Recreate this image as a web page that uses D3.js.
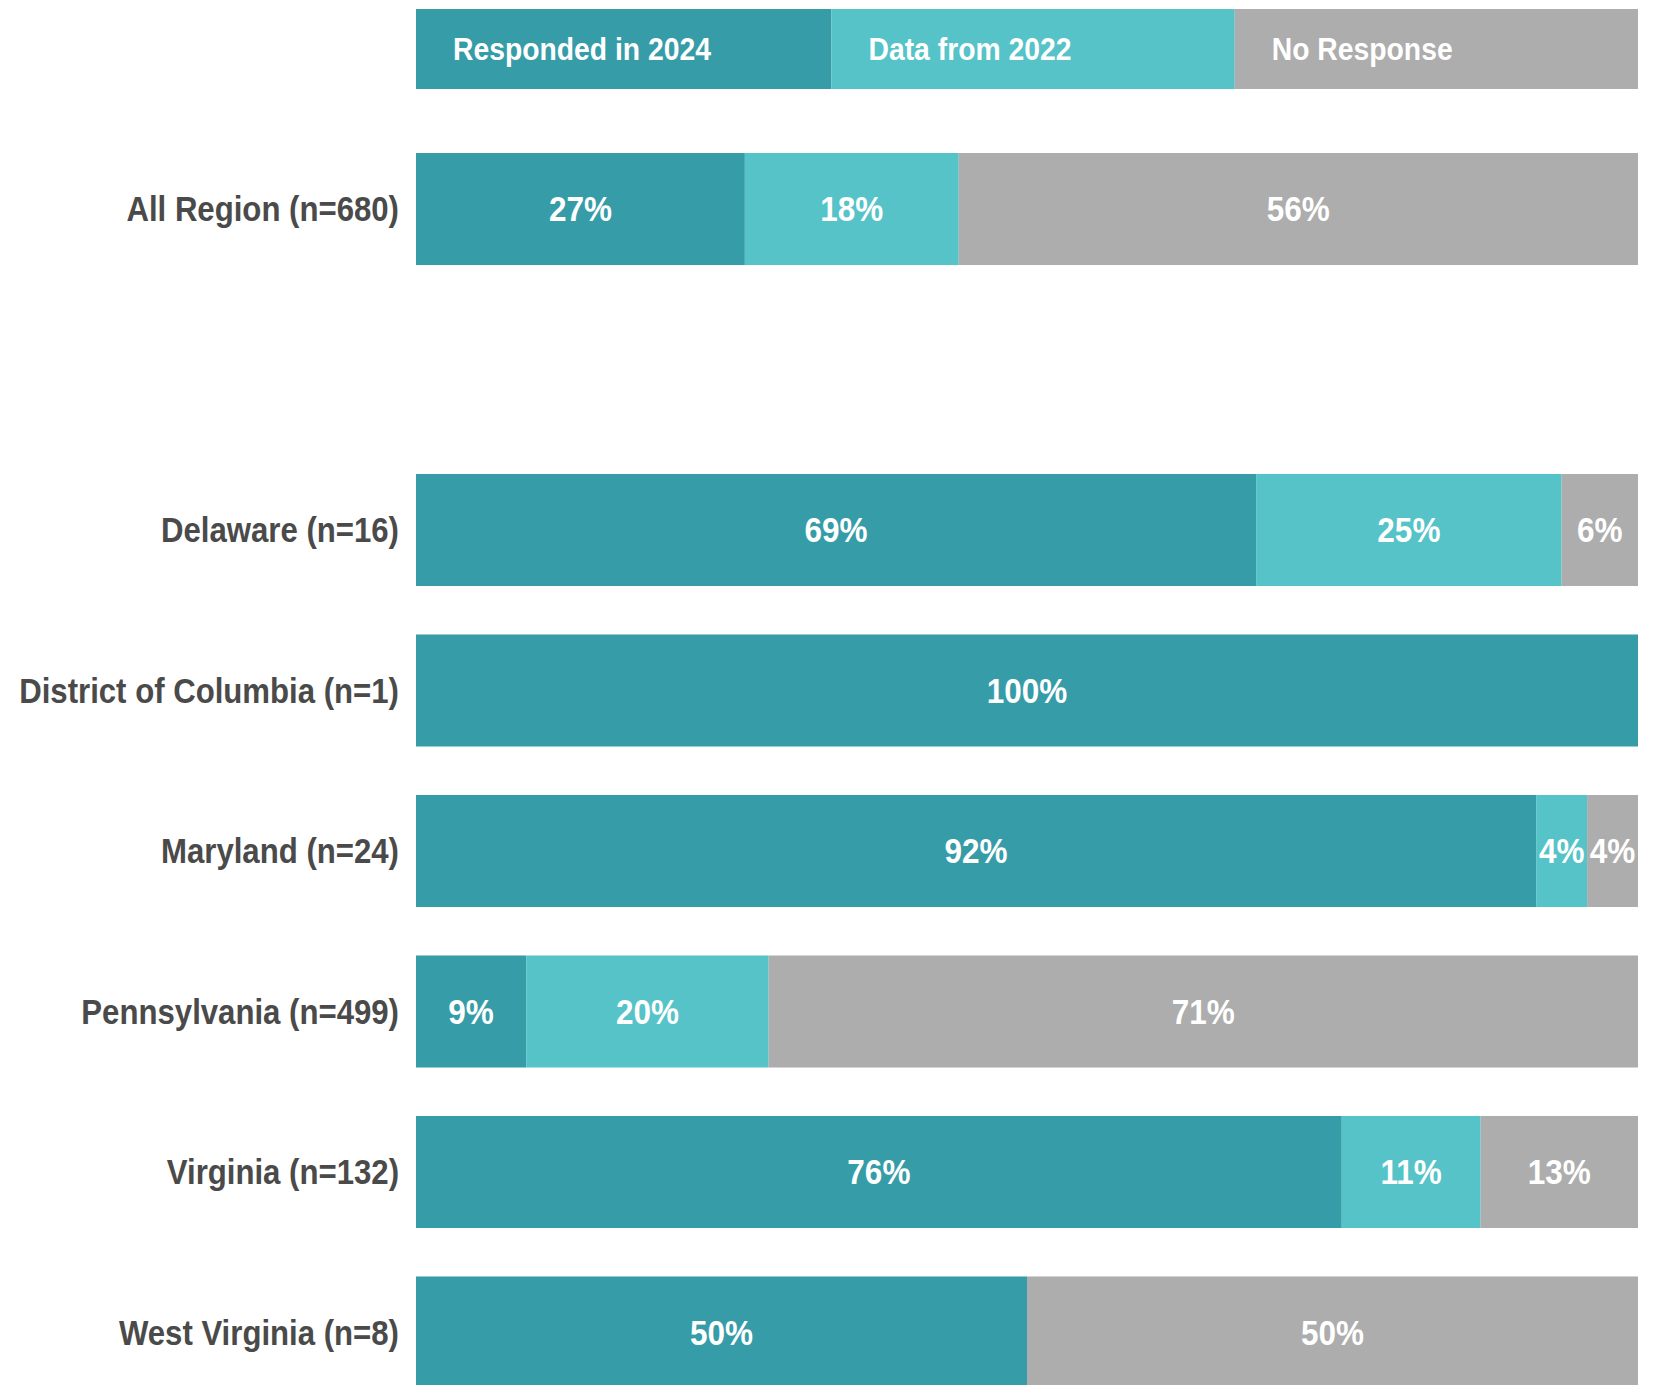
<!DOCTYPE html>
<html>
<head>
<meta charset="utf-8">
<script src="https://cdn.jsdelivr.net/npm/d3@7"></script>
<style>
    body { margin: 0; background: #fff; }
    svg text { font-family: "Liberation Sans", Arial, sans-serif; font-weight: bold; }
</style>
</head>
<body>
<svg id="chart"></svg>
<script>
// Data: respondent counts per region
const regions = ["All Region", "Delaware", "District of Columbia", "Maryland", "Pennsylvania", "Virginia", "West Virginia"];
const responded2024 = [183, 11, 1, 22, 45, 100, 4];
const dataFrom2022 = [119, 4, 0, 1, 99, 15, 0];
const noResponse = [378, 1, 0, 1, 355, 17, 4];

const seriesKeys = ["Responded in 2024", "Data from 2022", "No Response"];
const seriesColors = ["#369ca8", "#55c3c8", "#adadad"];

const width = 1656;
const height = 1385;
// no narrow font installed, so squeeze the text sideways
const squeeze = 0.89;

const rows = regions.map((name, i) => {
    const counts = [responded2024[i], dataFrom2022[i], noResponse[i]];
    const n = d3.sum(counts);
    const row = { name, n };
    seriesKeys.forEach((k, j) => row[k] = counts[j] / n);
    return row;
});

const svg = d3.select("#chart")
    .attr("width", width)
    .attr("height", height);

const x = d3.scaleLinear().domain([0, 1]).range([416, 1638]);

// leave an empty slot between the all-region bar and the states
const slots = [regions[0], "__gap__", ...regions.slice(1)];
const y = d3.scaleBand()
    .domain(slots)
    .range([153, 1388.5])
    .paddingInner(0.302)
    .paddingOuter(0);

const stacked = d3.stack().keys(seriesKeys)(rows);

const place = (px, py, k) => `translate(${px},${py}) scale(${k},1)`;

// Legend bar
const legendEdges = [0, 0.34, 0.67, 1];
const legend = svg.append("g");
seriesKeys.forEach((k, i) => {
    legend.append("rect")
        .attr("x", x(legendEdges[i]))
        .attr("y", 9)
        .attr("width", x(legendEdges[i + 1]) - x(legendEdges[i]))
        .attr("height", 80)
        .attr("fill", seriesColors[i]);
    legend.append("text")
        .attr("transform", place(x(legendEdges[i]) + 37, 49, 0.885))
        .attr("dy", "0.35em")
        .attr("fill", "#fff")
        .style("font-size", "32px")
        .text(k);
});

// Bars
const layers = svg.selectAll("g.layer")
    .data(stacked)
    .enter()
    .append("g")
    .attr("class", "layer")
    .attr("fill", (d, i) => seriesColors[i]);

layers.selectAll("rect")
    .data(d => d)
    .enter()
    .append("rect")
    .attr("x", d => x(d[0]))
    .attr("y", d => y(d.data.name))
    .attr("width", d => x(d[1]) - x(d[0]))
    .attr("height", y.bandwidth());

// Percentage labels
layers.selectAll("text")
    .data(d => d.filter(p => p[1] - p[0] > 0))
    .enter()
    .append("text")
    .attr("transform", d => place((x(d[0]) + x(d[1])) / 2, y(d.data.name) + y.bandwidth() / 2, 0.9))
    .attr("dy", "0.35em")
    .attr("text-anchor", "middle")
    .attr("fill", "#fff")
    .style("font-size", "35px")
    .text(d => Math.round((d[1] - d[0]) * 100) + "%");

// Row labels
svg.append("g")
    .selectAll("text")
    .data(rows)
    .enter()
    .append("text")
    .attr("transform", d => place(x(0) - 17, y(d.name) + y.bandwidth() / 2, squeeze))
    .attr("dy", "0.35em")
    .attr("text-anchor", "end")
    .attr("fill", "#4a4a4a")
    .style("font-size", "35px")
    .text(d => `${d.name} (n=${d.n})`);
</script>
</body>
</html>
